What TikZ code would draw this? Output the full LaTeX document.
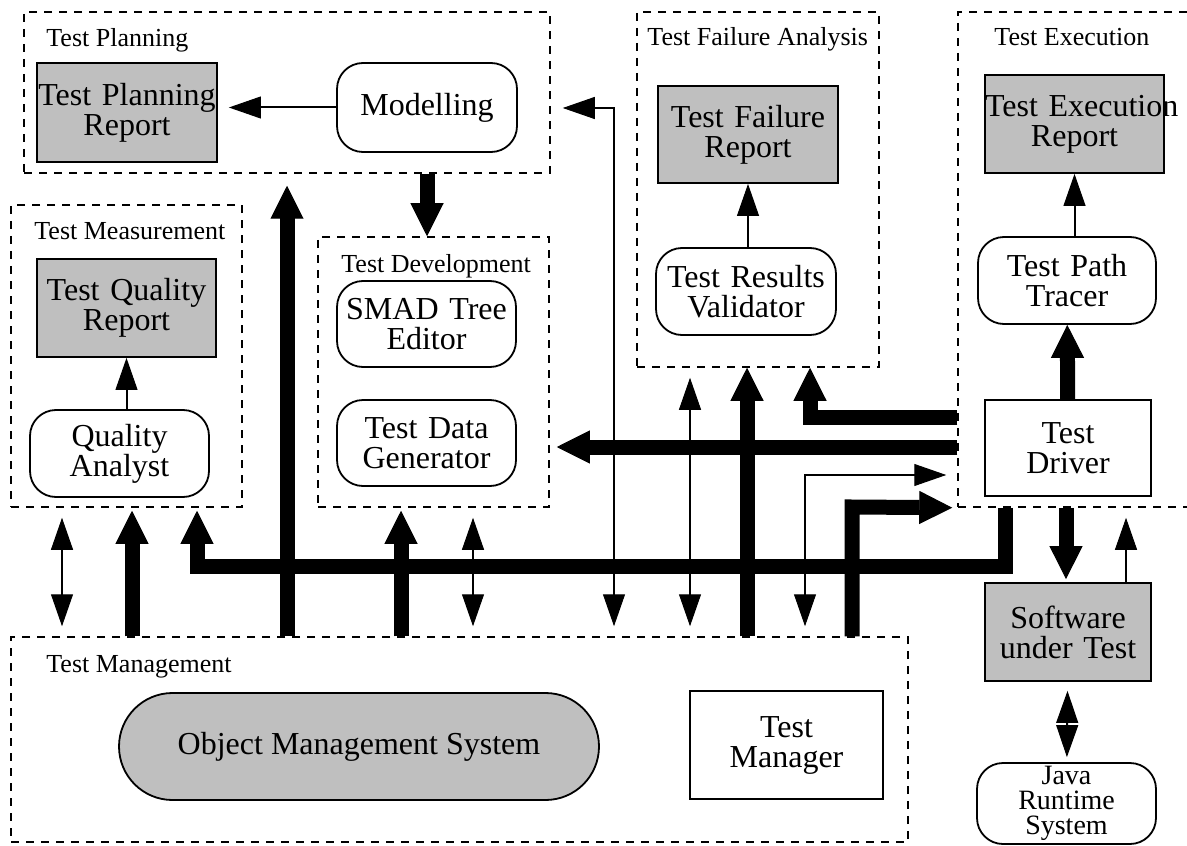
\documentclass[tikz,border=0pt]{standalone}
\usepackage{fontspec}
\setmainfont{Liberation Serif}
\usetikzlibrary{arrows.meta,shapes.misc}
\tikzset{
    report-box/.style = {draw, fill=black!25, line width=0.9pt, rectangle, inner sep=0pt, align=center, font=\fontsize{16pt}{15pt}\selectfont},
    plain-box/.style = {report-box, fill=white},
    tool-box/.style = {draw, fill=white, line width=0.9pt, rectangle, rounded corners=13pt, inner sep=0pt, align=center, font=\fontsize{16pt}{15pt}\selectfont},
    store-box/.style = {draw, fill=black!25, line width=0.9pt, rounded rectangle, inner xsep=-6pt, inner ysep=0pt, font=\fontsize{16pt}{15pt}\selectfont},
    group-box/.style = {draw, dash pattern=on 4pt off 3.5pt, line width=0.75pt, rectangle, inner sep=0pt},
    group-title/.style = {anchor=base west, inner sep=0pt, font=\fontsize{13pt}{13pt}\selectfont},
    thin-arrow/.style = {line width=1pt, -{Triangle[length=16pt,width=11pt,line width=0.5pt]}},
    thin-both/.style = {line width=1pt, {Triangle[length=16pt,width=11pt,line width=0.5pt]}-{Triangle[length=16pt,width=11pt,line width=0.5pt]}},
    thick-arrow/.style = {line width=7.5pt, -{Triangle[length=16.5pt,width=16.5pt,line width=0.5pt]}},
}
\begin{document}
\begin{tikzpicture}[x=0.5pt, y=-0.5pt]
\useasboundingbox (0,0) rectangle (1187,845);

% groups
\node[group-box, minimum width=263pt, minimum height=80.5pt] (gplan) at (287,92.5) {};
\node[group-box, minimum width=121pt, minimum height=177.5pt] (gfail) at (758,189.5) {};
\node[group-box, minimum width=121pt, minimum height=247.5pt] (gexec) at (1079,259.5) {};
\node[group-box, minimum width=115.5pt, minimum height=151pt] (gmeas) at (126.5,356) {};
\node[group-box, minimum width=115.5pt, minimum height=135pt] (gdev) at (433.5,372) {};
\node[group-box, minimum width=448.5pt, minimum height=102.5pt] (gmgmt) at (459.5,739.5) {};

\node[group-title] (lplan) at (46,47) {Test Planning};
\node[group-title] (lfail) at (647,46) {Test Failure Analysis};
\node[group-title] (lexec) at (994,46) {Test Execution};
\node[group-title] (lmeas) at (34,240) {Test Measurement};
\node[group-title] (ldev) at (341,272) {Test Development};
\node[group-title] (lmgmt) at (46,672) {Test Management};

% tools and reports
\node[report-box, text width=90pt, minimum height=49.5pt] (tpr) at (127,112.5) {\mbox{Test Planning}\\Report};
\node[tool-box, text width=90pt, minimum height=44.5pt] (model) at (427,107.5) {Modelling};
\node[report-box, text width=90pt, minimum height=48.5pt] (tfr) at (748,134.5) {Test Failure\\Report};
\node[tool-box, text width=90pt, minimum height=43.5pt] (trv) at (746,291.5) {Test Results\\Validator};
\node[report-box, text width=89.5pt, minimum height=49pt] (ter) at (1074.5,124) {\mbox{Test Execution}\\Report};
\node[tool-box, text width=89pt, minimum height=43.5pt] (tpt) at (1067,280.5) {Test Path\\Tracer};
\node[plain-box, text width=83pt, minimum height=48pt] (tdrv) at (1068,448) {Test\\Driver};
\node[report-box, text width=89.5pt, minimum height=49pt] (tqr) at (126.5,308) {Test Quality\\Report};
\node[tool-box, text width=89.5pt, minimum height=43.5pt] (qa) at (119.5,453.5) {Quality\\Analyst};
\node[tool-box, text width=89.5pt, minimum height=43pt] (smad) at (426.5,324) {SMAD Tree\\Editor};
\node[tool-box, text width=89.5pt, minimum height=43pt] (tdg) at (426.5,443) {Test Data\\Generator};
\node[report-box, text width=83pt, minimum height=49pt] (sut) at (1068,632) {Software\\under Test};
\node[tool-box, text width=89.5pt, minimum height=40.5pt, font=\fontsize{14pt}{12.5pt}\selectfont] (jrs) at (1066.5,803.5) {Java\\Runtime\\System};
\node[store-box, minimum width=228pt, minimum height=53.5pt] (oms) at (359,746.5) {Object Management System};
\node[plain-box, text width=96.5pt, minimum height=54pt] (tmgr) at (786.5,745) {Test\\Manager};

% bends and taps
\coordinate (c-meas-dbl) at (62,0);
\coordinate (c-meas-up) at (132,0);
\coordinate (c-plan-up) at (287,0);
\coordinate (c-dev-up) at (401,0);
\coordinate (c-dev-dbl) at (473,0);
\coordinate (c-plan-dbl) at (614,108);
\coordinate (c-fail-dbl) at (690,0);
\coordinate (c-fail-up) at (747,0);
\coordinate (c-exec-dbl) at (805,475);
\coordinate (c-exec-up) at (852,507);
\coordinate (c-fail-in) at (810,417);
\coordinate (c-dev-in) at (0,447);
\coordinate (bus-r) at (1005,566);
\coordinate (bus-l) at (197,566);
\coordinate (c-sut-in) at (1066,0);
\coordinate (c-sut-out) at (1126,0);

% connectors
\draw[thin-arrow, shorten >=5.5pt] (model.west) -- (tpr.east |- model.west);
\draw[thick-arrow] (gplan.south -| model) -- (gdev.north -| model);
\draw[thick-arrow, shorten >=6pt] (gmgmt.north -| c-plan-up) -- (gplan.south -| c-plan-up);
\draw[thin-both, shorten <=5pt, shorten >=5pt] (gmgmt.north -| c-meas-dbl) -- (gmeas.south -| c-meas-dbl);
\draw[thick-arrow, shorten >=1.5pt] (gmgmt.north -| c-meas-up) -- (gmeas.south -| c-meas-up);
\draw[thick-arrow, shorten >=1.5pt] (gexec.south -| bus-r) -- (bus-r) -- (bus-l) -- (gmeas.south -| bus-l);
\draw[thick-arrow, shorten >=1.5pt] (gmgmt.north -| c-dev-up) -- (gdev.south -| c-dev-up);
\draw[thin-both, shorten <=5pt, shorten >=5pt] (gmgmt.north -| c-dev-dbl) -- (gdev.south -| c-dev-dbl);
\draw[thin-both, shorten <=5pt, shorten >=6pt] (gmgmt.north -| c-plan-dbl) -- (c-plan-dbl) -- (gplan.east |- c-plan-dbl);
\draw[thin-both, shorten <=5pt, shorten >=5pt] (gmgmt.north -| c-fail-dbl) -- (gfail.south -| c-fail-dbl);
\draw[thick-arrow] (gmgmt.north -| c-fail-up) -- (gfail.south -| c-fail-up);
\draw[thin-both, shorten <=5pt, shorten >=5.5pt] (gmgmt.north -| c-exec-dbl) -- (c-exec-dbl) -- (gexec.west |- c-exec-dbl);
\draw[thick-arrow, shorten >=2.5pt] (gmgmt.north -| c-exec-up) -- (c-exec-up) -- (gexec.south west);
\draw[thick-arrow] (gexec.west |- c-fail-in) -- (c-fail-in) -- (gfail.south -| c-fail-in);
\draw[thick-arrow, shorten >=3.5pt] (gexec.west |- c-dev-in) -- (gdev.east |- c-dev-in);
\draw[thick-arrow] (tdrv) -- (tpt);
\draw[thin-arrow] (tfr.south |- trv.north) -- (tfr.south);
\draw[thin-arrow] (ter.south |- tpt.north) -- (ter.south);
\draw[thin-arrow] (tqr.south |- qa.north) -- (tqr.south);
\draw[thick-arrow, shorten >=1.5pt] (gexec.south -| c-sut-in) -- (sut.north -| c-sut-in);
\draw[thin-arrow, shorten >=5pt] (sut.north -| c-sut-out) -- (gexec.south -| c-sut-out);
\draw[thin-both, shorten <=4.5pt, shorten >=2.5pt] (sut) -- (jrs);
\end{tikzpicture}
\end{document}
